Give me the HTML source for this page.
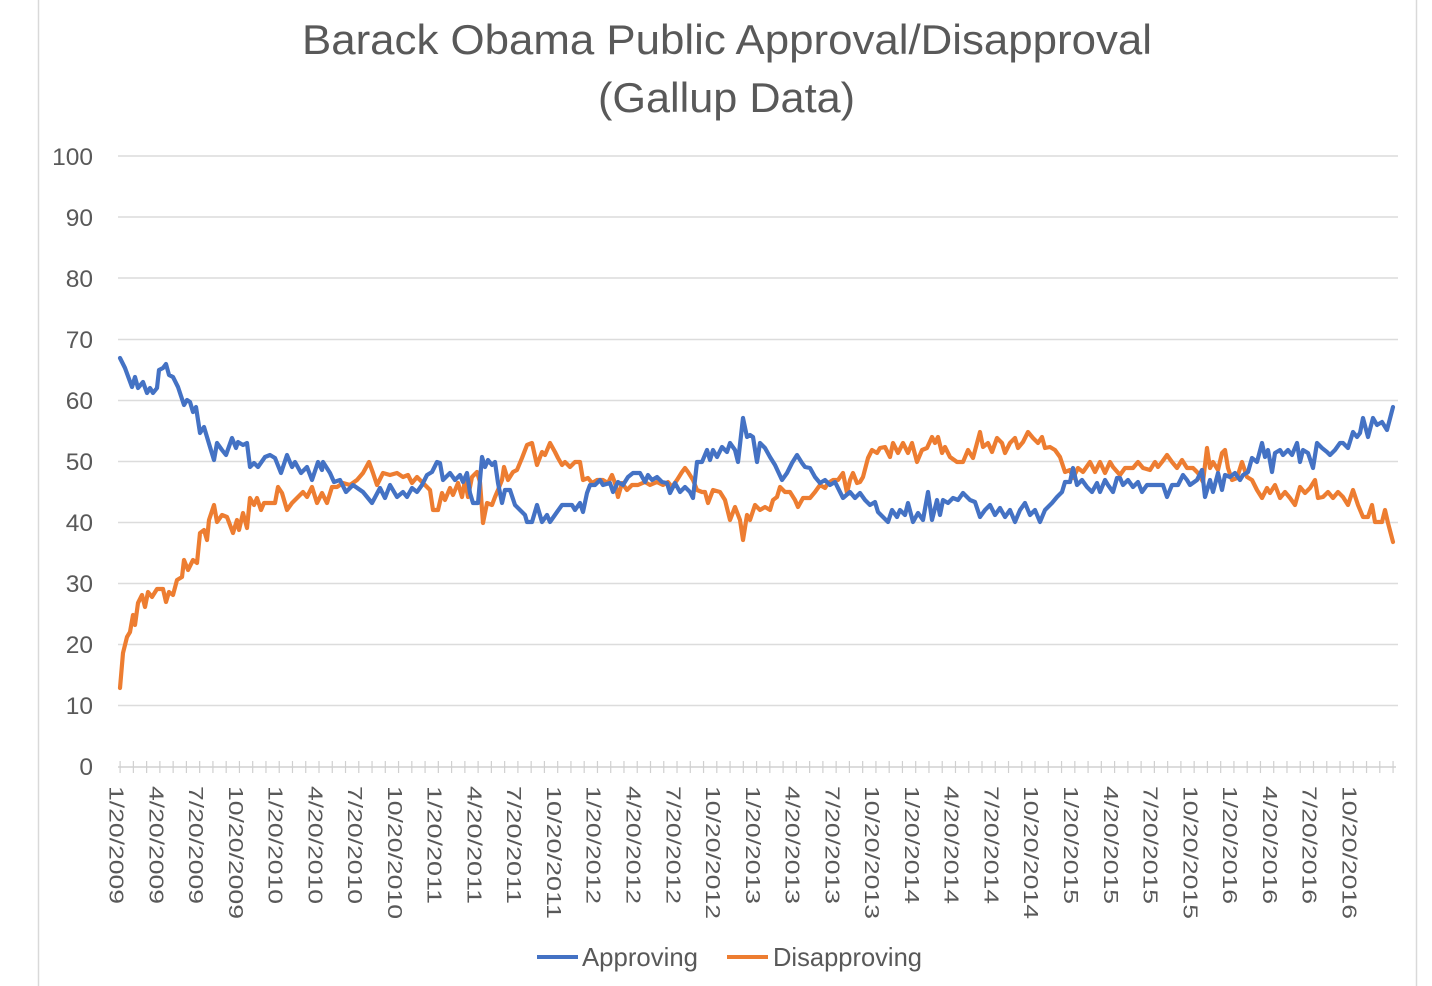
<!DOCTYPE html>
<html>
<head>
<meta charset="utf-8">
<style>
html,body{margin:0;padding:0;background:#fff;}
svg{display:block;}
text{font-family:"Liberation Sans",sans-serif;fill:#595959;}
</style>
</head>
<body>
<svg width="1432" height="986" viewBox="0 0 1432 986" xmlns="http://www.w3.org/2000/svg">
<rect x="0" y="0" width="1432" height="986" fill="#fff"/>
<line x1="38.5" y1="0" x2="38.5" y2="986" stroke="#d9d9d9" stroke-width="1.5"/>
<line x1="1416.5" y1="0" x2="1416.5" y2="986" stroke="#d9d9d9" stroke-width="1.5"/>

<!-- Title -->
<text x="302" y="54" font-size="42" textLength="850" lengthAdjust="spacingAndGlyphs">Barack Obama Public Approval/Disapproval</text>
<text x="598" y="112" font-size="42" textLength="257" lengthAdjust="spacingAndGlyphs">(Gallup Data)</text>

<!-- Gridlines -->
<g stroke="#dcdcdc" stroke-width="1.5">
<line x1="118" y1="156" x2="1398" y2="156"/>
<line x1="118" y1="217" x2="1398" y2="217"/>
<line x1="118" y1="278" x2="1398" y2="278"/>
<line x1="118" y1="339.5" x2="1398" y2="339.5"/>
<line x1="118" y1="400.5" x2="1398" y2="400.5"/>
<line x1="118" y1="461.5" x2="1398" y2="461.5"/>
<line x1="118" y1="522.5" x2="1398" y2="522.5"/>
<line x1="118" y1="583.5" x2="1398" y2="583.5"/>
<line x1="118" y1="644.5" x2="1398" y2="644.5"/>
<line x1="118" y1="705.5" x2="1398" y2="705.5"/>
</g>
<!-- x axis -->
<line x1="118" y1="767" x2="1396" y2="767" stroke="#d0d0d0" stroke-width="1.5"/>
<line x1="119.5" y1="767" x2="1396" y2="767" stroke="#d0d0d0" stroke-width="12" stroke-dasharray="1.2 12.06"/>

<!-- Y labels -->
<g font-size="24.5" text-anchor="end">
<text x="93" y="165">100</text>
<text x="93" y="226">90</text>
<text x="93" y="287">80</text>
<text x="93" y="348">70</text>
<text x="93" y="409">60</text>
<text x="93" y="470">50</text>
<text x="93" y="531">40</text>
<text x="93" y="592">30</text>
<text x="93" y="653">20</text>
<text x="93" y="714">10</text>
<text x="93" y="775">0</text>
</g>

<!-- X labels -->
<g font-size="20">
<text transform="translate(109.5,786) rotate(90)" textLength="118" lengthAdjust="spacingAndGlyphs">1/20/2009</text>
<text transform="translate(149.3,786) rotate(90)" textLength="118" lengthAdjust="spacingAndGlyphs">4/20/2009</text>
<text transform="translate(189.0,786) rotate(90)" textLength="118" lengthAdjust="spacingAndGlyphs">7/20/2009</text>
<text transform="translate(228.8,786) rotate(90)" textLength="133" lengthAdjust="spacingAndGlyphs">10/20/2009</text>
<text transform="translate(268.6,786) rotate(90)" textLength="118" lengthAdjust="spacingAndGlyphs">1/20/2010</text>
<text transform="translate(308.4,786) rotate(90)" textLength="118" lengthAdjust="spacingAndGlyphs">4/20/2010</text>
<text transform="translate(348.1,786) rotate(90)" textLength="118" lengthAdjust="spacingAndGlyphs">7/20/2010</text>
<text transform="translate(387.9,786) rotate(90)" textLength="133" lengthAdjust="spacingAndGlyphs">10/20/2010</text>
<text transform="translate(427.7,786) rotate(90)" textLength="118" lengthAdjust="spacingAndGlyphs">1/20/2011</text>
<text transform="translate(467.4,786) rotate(90)" textLength="118" lengthAdjust="spacingAndGlyphs">4/20/2011</text>
<text transform="translate(507.2,786) rotate(90)" textLength="118" lengthAdjust="spacingAndGlyphs">7/20/2011</text>
<text transform="translate(547.0,786) rotate(90)" textLength="133" lengthAdjust="spacingAndGlyphs">10/20/2011</text>
<text transform="translate(586.7,786) rotate(90)" textLength="118" lengthAdjust="spacingAndGlyphs">1/20/2012</text>
<text transform="translate(626.5,786) rotate(90)" textLength="118" lengthAdjust="spacingAndGlyphs">4/20/2012</text>
<text transform="translate(666.3,786) rotate(90)" textLength="118" lengthAdjust="spacingAndGlyphs">7/20/2012</text>
<text transform="translate(706.1,786) rotate(90)" textLength="133" lengthAdjust="spacingAndGlyphs">10/20/2012</text>
<text transform="translate(745.8,786) rotate(90)" textLength="118" lengthAdjust="spacingAndGlyphs">1/20/2013</text>
<text transform="translate(785.6,786) rotate(90)" textLength="118" lengthAdjust="spacingAndGlyphs">4/20/2013</text>
<text transform="translate(825.4,786) rotate(90)" textLength="118" lengthAdjust="spacingAndGlyphs">7/20/2013</text>
<text transform="translate(865.1,786) rotate(90)" textLength="133" lengthAdjust="spacingAndGlyphs">10/20/2013</text>
<text transform="translate(904.9,786) rotate(90)" textLength="118" lengthAdjust="spacingAndGlyphs">1/20/2014</text>
<text transform="translate(944.7,786) rotate(90)" textLength="118" lengthAdjust="spacingAndGlyphs">4/20/2014</text>
<text transform="translate(984.4,786) rotate(90)" textLength="118" lengthAdjust="spacingAndGlyphs">7/20/2014</text>
<text transform="translate(1024.2,786) rotate(90)" textLength="133" lengthAdjust="spacingAndGlyphs">10/20/2014</text>
<text transform="translate(1064.0,786) rotate(90)" textLength="118" lengthAdjust="spacingAndGlyphs">1/20/2015</text>
<text transform="translate(1103.8,786) rotate(90)" textLength="118" lengthAdjust="spacingAndGlyphs">4/20/2015</text>
<text transform="translate(1143.5,786) rotate(90)" textLength="118" lengthAdjust="spacingAndGlyphs">7/20/2015</text>
<text transform="translate(1183.3,786) rotate(90)" textLength="133" lengthAdjust="spacingAndGlyphs">10/20/2015</text>
<text transform="translate(1223.1,786) rotate(90)" textLength="118" lengthAdjust="spacingAndGlyphs">1/20/2016</text>
<text transform="translate(1262.8,786) rotate(90)" textLength="118" lengthAdjust="spacingAndGlyphs">4/20/2016</text>
<text transform="translate(1302.6,786) rotate(90)" textLength="118" lengthAdjust="spacingAndGlyphs">7/20/2016</text>
<text transform="translate(1342.4,786) rotate(90)" textLength="133" lengthAdjust="spacingAndGlyphs">10/20/2016</text>
</g>

<!-- Series -->
<g fill="none" stroke-width="4.2" stroke-linejoin="round" stroke-linecap="round">
<polyline stroke="#ED7D31" points="120,688 123,653 127,637 130,632 133,615 135,625 138,603 142,595 145,607 148,592 152,597 157,589 163,589 166,602 169,592 173,595 177,580 182,577 184,560 188,570 193,560 197,563 200,533 204,530 207,540 209,520 214,505 217,522 222,515 227,517 233,533 237,520 239,530 243,513 247,528 250,498 254,505 257,498 261,510 264,503 270,503 275,503 278,487 282,493 287,510 292,503 298,497 303,492 307,497 312,487 317,503 322,493 327,503 332,487 337,487 343,483 350,485 357,480 363,473 369,462 373,473 377,485 383,473 390,475 397,473 403,477 408,475 412,483 417,477 423,483 430,490 433,510 438,510 442,493 445,500 450,488 453,495 458,483 462,497 465,480 468,497 472,477 477,472 480,482 483,523 487,503 492,505 495,497 498,490 502,480 504,467 508,480 513,472 517,470 522,458 527,445 532,443 537,465 542,452 545,455 550,443 555,452 558,458 562,465 565,462 570,467 575,462 580,462 583,480 588,478 592,483 597,480 603,480 608,483 612,475 615,483 618,497 622,483 627,490 632,485 638,485 645,482 650,485 657,482 663,485 668,482 672,487 677,480 682,472 685,468 688,472 693,480 697,490 702,492 705,492 708,503 713,490 720,492 725,500 730,520 735,507 740,520 743,540 747,515 750,520 755,505 760,510 765,507 770,510 773,500 777,497 780,487 785,492 790,492 795,500 798,507 803,498 810,498 815,492 820,485 825,488 828,483 833,480 838,480 843,473 847,493 850,480 853,473 857,483 860,482 863,477 868,458 872,450 877,453 880,448 885,447 890,457 893,443 898,453 903,443 908,453 912,443 917,462 922,450 927,448 932,437 935,443 938,437 942,453 945,447 950,457 957,462 963,462 968,450 973,458 980,432 983,447 988,443 992,452 997,438 1002,443 1005,453 1010,443 1015,438 1018,448 1023,442 1028,432 1033,438 1038,443 1042,437 1045,448 1050,447 1055,450 1060,457 1065,472 1070,470 1073,478 1078,468 1083,472 1090,462 1095,472 1100,462 1105,473 1110,462 1113,467 1120,475 1125,468 1133,468 1138,462 1143,468 1150,470 1155,462 1158,467 1162,462 1167,455 1172,462 1177,468 1182,460 1187,468 1193,468 1198,473 1203,482 1207,448 1210,468 1213,462 1218,470 1222,453 1225,450 1228,468 1232,480 1237,478 1242,462 1247,477 1252,480 1257,490 1262,498 1267,488 1270,493 1275,485 1280,498 1285,492 1290,498 1295,505 1300,487 1305,493 1310,488 1315,480 1318,498 1323,497 1328,492 1333,498 1338,492 1343,497 1348,505 1353,490 1358,505 1363,517 1368,517 1372,505 1375,522 1382,522 1385,510 1388,523 1393,542"/>
<polyline stroke="#4472C4" points="120,358 125,368 132,387 135,377 138,388 143,382 147,393 150,388 153,393 157,388 159,370 163,368 166,364 169,375 173,377 178,387 184,405 187,400 190,402 193,412 196,407 200,433 204,427 207,437 210,447 214,460 217,443 222,450 226,455 232,438 236,448 238,442 243,445 247,443 250,467 254,463 258,467 265,457 270,455 275,458 281,473 287,455 292,467 295,462 301,473 307,467 312,480 318,462 322,470 323,462 330,473 334,482 340,480 346,492 353,485 363,492 372,503 380,488 385,498 390,485 397,497 403,492 407,497 412,488 417,492 422,485 427,475 432,472 437,462 440,463 443,480 450,473 455,480 460,475 463,482 467,473 470,493 473,503 478,503 482,457 485,467 488,460 492,465 495,462 498,483 502,503 505,490 510,490 515,505 520,510 525,515 527,522 532,522 537,505 542,522 547,515 550,522 557,512 562,505 567,505 572,505 575,510 580,503 583,512 587,493 590,485 595,485 600,480 603,485 610,483 613,492 618,482 623,485 628,477 633,473 640,473 645,482 648,475 652,480 657,477 662,482 667,483 670,493 675,483 680,492 685,487 690,492 693,498 697,462 702,462 707,450 710,460 713,450 717,457 722,447 727,452 730,443 735,450 738,462 743,418 747,437 750,435 753,437 757,462 760,443 765,448 770,457 775,465 782,480 787,473 792,463 797,455 802,463 805,467 810,468 815,477 820,483 825,480 830,485 835,482 840,492 843,498 850,492 855,498 860,493 865,500 870,505 875,502 878,512 883,517 888,522 892,510 897,517 900,510 905,515 908,503 913,522 918,513 923,520 928,492 932,520 937,500 940,515 943,500 948,503 953,498 958,500 963,493 970,500 975,502 980,517 985,510 990,505 995,515 1000,508 1005,517 1010,510 1015,522 1020,510 1025,503 1030,515 1035,510 1040,522 1045,510 1052,503 1057,497 1062,492 1065,482 1070,482 1073,468 1077,485 1082,480 1087,487 1092,492 1097,483 1100,492 1105,480 1108,485 1113,492 1117,478 1120,478 1123,485 1128,480 1133,487 1138,482 1142,492 1147,485 1157,485 1163,485 1167,497 1172,485 1178,485 1183,475 1187,480 1190,485 1197,480 1202,470 1205,497 1210,480 1213,492 1218,473 1222,490 1225,475 1230,477 1235,473 1240,480 1243,475 1248,472 1252,458 1257,462 1262,443 1265,457 1268,450 1272,472 1275,453 1280,450 1283,455 1288,450 1292,455 1297,443 1300,462 1303,450 1308,453 1313,468 1317,443 1322,448 1327,452 1330,455 1335,450 1340,443 1343,443 1348,448 1353,432 1357,437 1360,433 1363,418 1368,437 1373,418 1377,425 1382,422 1387,430 1393,407"/>
</g>

<!-- Legend -->
<line x1="537" y1="957" x2="578" y2="957" stroke="#4472C4" stroke-width="4"/>
<text x="582" y="966" font-size="26" textLength="116" lengthAdjust="spacingAndGlyphs">Approving</text>
<line x1="727" y1="957" x2="768" y2="957" stroke="#ED7D31" stroke-width="4"/>
<text x="773" y="966" font-size="26" textLength="149" lengthAdjust="spacingAndGlyphs">Disapproving</text>
</svg>
</body>
</html>
